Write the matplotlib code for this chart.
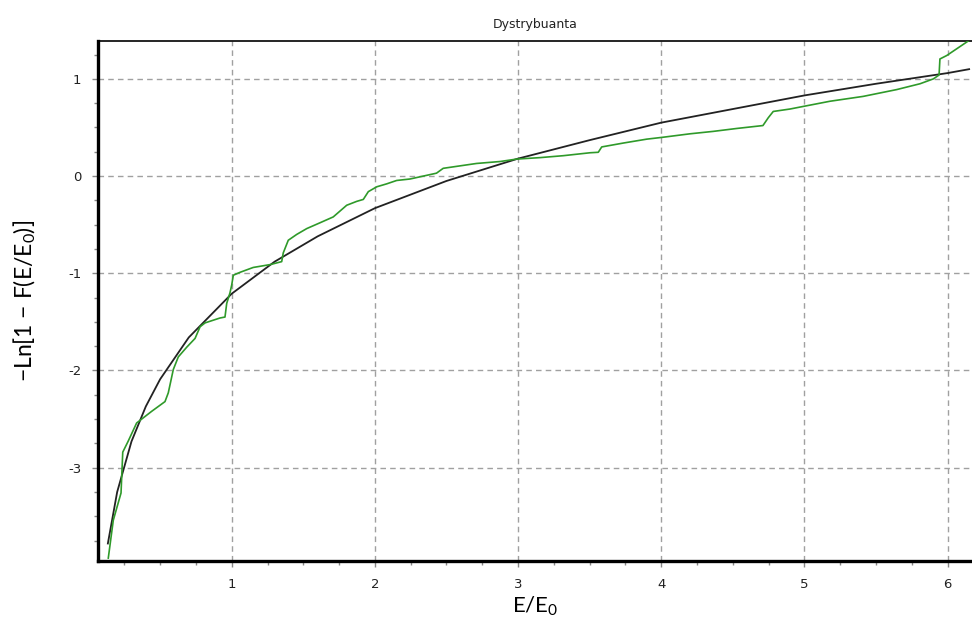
import matplotlib.pyplot as plt
from matplotlib.ticker import MultipleLocator

plt.rcParams["axes.unicode_minus"] = False

# fitted curve (black)
fit_x = [0.135, 0.2, 0.3, 0.4, 0.5, 0.7, 1.0, 1.3, 1.6, 2.0, 2.5, 3.0,
         3.5, 4.0, 4.5, 5.0, 5.5, 6.0, 6.15]
fit_y = [-3.78, -3.25, -2.73, -2.37, -2.09, -1.66, -1.21, -0.88, -0.62,
         -0.33, -0.05, 0.18, 0.37, 0.55, 0.69, 0.83, 0.95, 1.06, 1.10]

# empirical distribution (green)
emp_x = [0.138, 0.173, 0.227, 0.239, 0.276, 0.336, 0.441, 0.534, 0.557,
         0.576, 0.592, 0.627, 0.686, 0.744, 0.779, 0.814, 0.918, 0.953,
         0.965, 0.988, 1.0, 1.011, 1.058, 1.15, 1.27, 1.349, 1.36, 1.395,
         1.454, 1.524, 1.617, 1.709, 1.756, 1.803, 1.873, 1.919, 1.954,
         2.013, 2.082, 2.152, 2.245, 2.43, 2.477, 2.57, 2.71, 2.874, 2.99,
         3.153, 3.316, 3.502, 3.56, 3.584, 3.735, 3.898, 4.014, 4.2, 4.363,
         4.527, 4.71, 4.747, 4.782, 4.899, 5.003, 5.178, 5.41, 5.644,
         5.807, 5.9, 5.94, 5.946, 5.993, 6.144]
emp_y = [-3.93, -3.54, -3.26, -2.84, -2.73, -2.54, -2.42, -2.32, -2.23,
         -2.10, -1.99, -1.86, -1.76, -1.67, -1.55, -1.51, -1.46, -1.45,
         -1.31, -1.20, -1.12, -1.02, -0.99, -0.94, -0.91, -0.88, -0.79,
         -0.66, -0.60, -0.54, -0.48, -0.42, -0.36, -0.30, -0.26, -0.24,
         -0.16, -0.11, -0.08, -0.045, -0.03, 0.03, 0.08, 0.10, 0.13, 0.15,
         0.175, 0.19, 0.21, 0.24, 0.245, 0.30, 0.34, 0.38, 0.40, 0.435,
         0.46, 0.49, 0.52, 0.60, 0.665, 0.69, 0.72, 0.77, 0.82, 0.89, 0.95,
         1.0, 1.04, 1.205, 1.24, 1.39]

x_ticks = [1, 2, 3, 4, 5, 6]
y_ticks = [-3, -2, -1, 0, 1]

fig = plt.figure(figsize=(9.72, 6.21), dpi=100)
ax = fig.add_axes([0.1008, 0.0966, 0.8992, 0.8374])

ax.plot(fit_x, fit_y, color="#222222", lw=1.3, zorder=3)
ax.plot(emp_x, emp_y, color="#2f9a2a", lw=1.2, zorder=4)

ax.set_xlim(0.066, 6.17)
ax.set_ylim(-3.96, 1.39)
ax.set_xticks(x_ticks)
ax.set_yticks(y_ticks)
ax.xaxis.set_minor_locator(MultipleLocator(0.25))
ax.yaxis.set_minor_locator(MultipleLocator(0.25))

ax.grid(True, which="major", color="#a0a0a0", lw=1.0, ls=(0, (4, 3)))
ax.tick_params(which="both", direction="out", color="#888888", width=1,
               labelsize=9.5, labelcolor="#222222", pad=8, length=4)
ax.tick_params(which="minor", length=3)

ax.spines["left"].set_linewidth(2.4)
ax.spines["bottom"].set_linewidth(2.4)
ax.spines["top"].set_linewidth(1.2)
ax.spines["right"].set_visible(False)

ax.set_title("Dystrybuanta", fontsize=9, color="#222222", pad=9)
ax.set_xlabel(r"E/E$_\mathregular{0}$", fontsize=16, family="Lato", labelpad=3)
ax.set_ylabel(r"−Ln[1 − F(E/E$_\mathregular{0}$)]", fontsize=16.5,
              family=["Lato", "DejaVu Sans"], labelpad=22)

fig.savefig("out.png", dpi=100)
